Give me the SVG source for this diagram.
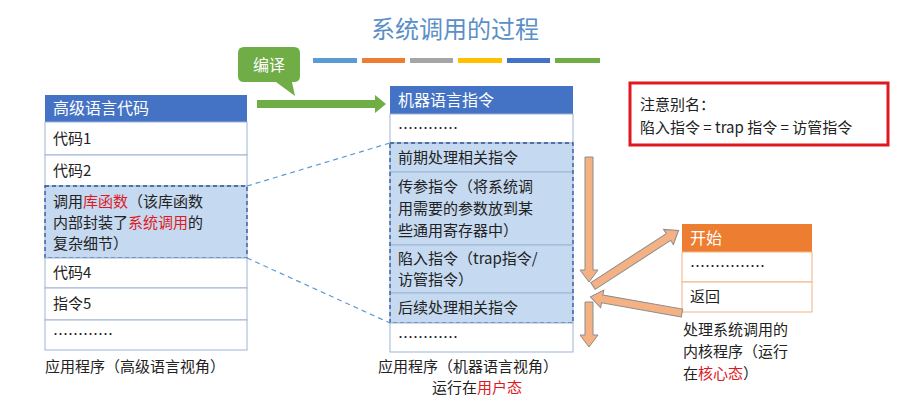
<svg xmlns="http://www.w3.org/2000/svg" width="921" height="400" viewBox="0 0 921 400">
<style>
text{font-family:"Noto Sans CJK SC","Liberation Sans",sans-serif;font-size:15px;fill:#222}
.h{fill:#fff;font-size:16px}
.r{fill:#e0191f}
.cell{fill:#fff;stroke:#9db3d6;stroke-width:1}
.sel{fill:#c5d9f0;stroke:#9db3d6;stroke-width:1}
.dash{fill:none;stroke:#2f5597;stroke-width:1.3;stroke-dasharray:4,3}
.oa{fill:#f4b183;stroke:#8c8c8c;stroke-width:1}
</style>
<rect width="921" height="400" fill="#fff"/>
<text x="455" y="38" text-anchor="middle" style="font-size:24px;fill:#5b8fc7">系统调用的过程</text>
<g>
<rect x="313" y="58" width="44" height="5" fill="#5b9bd5"/>
<rect x="362" y="58" width="43" height="5" fill="#ed7d31"/>
<rect x="410" y="58" width="43" height="5" fill="#a5a5a5"/>
<rect x="458" y="58" width="44" height="5" fill="#ffc000"/>
<rect x="507" y="58" width="43" height="5" fill="#4472c4"/>
<rect x="555" y="58" width="45" height="5" fill="#70ad47"/>
</g>
<g id="compile">
<path d="M244,47 H294 Q300,47 300,53 V76 Q300,82 294,82 H292 L295,96 L276,82 H244 Q238,82 238,76 V53 Q238,47 244,47 Z" fill="#70ad47"/>
<text x="269" y="71" text-anchor="middle" style="fill:#fff;font-size:16px">编译</text>
</g>
<g id="left">
<rect x="45" y="95" width="202" height="27" fill="#4472c4"/>
<text class="h" x="53" y="114">高级语言代码</text>
<rect class="cell" x="45" y="122" width="202" height="33"/><text x="53" y="144">代码1</text>
<rect class="cell" x="45" y="155" width="202" height="31"/><text x="53" y="176">代码2</text>
<rect class="sel" x="45" y="186" width="202" height="72"/>
<rect class="dash" x="45" y="186" width="202" height="72"/>
<text x="53" y="207">调用<tspan class="r">库函数</tspan>（该库函数</text>
<text x="53" y="228">内部封装了<tspan class="r">系统调用</tspan>的</text>
<text x="53" y="249">复杂细节）</text>
<rect class="cell" x="45" y="258" width="202" height="30"/><text x="53" y="278">代码4</text>
<rect class="cell" x="45" y="288" width="202" height="32"/><text x="53" y="309">指令5</text>
<rect class="cell" x="45" y="320" width="202" height="30"/><text x="53" y="340">…………</text>
<text x="45" y="372">应用程序（高级语言视角）</text>
</g>
<g id="mid">
<rect x="390" y="86" width="183" height="28" fill="#4472c4"/>
<text class="h" x="398" y="106">机器语言指令</text>
<rect class="cell" x="390" y="114" width="183" height="29"/><text x="398" y="134">…………</text>
<rect class="sel" x="390" y="143" width="183" height="29"/><text x="398" y="163">前期处理相关指令</text>
<rect class="sel" x="390" y="172" width="183" height="73"/>
<text x="398" y="192">传参指令（将系统调</text>
<text x="398" y="214">用需要的参数放到某</text>
<text x="398" y="236">些通用寄存器中）</text>
<rect class="sel" x="390" y="245" width="183" height="48"/>
<text x="398" y="264">陷入指令（trap指令/</text>
<text x="398" y="285">访管指令）</text>
<rect class="sel" x="390" y="293" width="183" height="30"/><text x="398" y="313">后续处理相关指令</text>
<rect class="dash" x="390" y="143" width="183" height="180"/>
<rect class="cell" x="390" y="323" width="183" height="29"/><text x="398" y="343">…………</text>
<text x="378" y="372">应用程序（机器语言视角）</text>
<text x="432" y="393">运行在<tspan class="r">用户态</tspan></text>
</g>
<g id="note">
<rect x="630" y="83" width="258" height="62" fill="#fff" stroke="#e0191f" stroke-width="3"/>
<text x="640" y="110">注意别名：</text>
<text x="640" y="133">陷入指令 = trap 指令 = 访管指令</text>
</g>
<g id="kernel">
<rect x="682" y="224" width="130" height="28" fill="#ed7d31"/>
<text class="h" x="690" y="244">开始</text>
<rect x="682" y="252" width="130" height="30" fill="#fff" stroke="#f4b183"/><text x="690" y="272">……………</text>
<rect x="682" y="282" width="130" height="30" fill="#fff" stroke="#f4b183"/><text x="690" y="302">返回</text>
<text x="683" y="335">处理系统调用的</text>
<text x="683" y="357">内核程序（运行</text>
<text x="683" y="379">在<tspan class="r">核心态</tspan>）</text>
</g>
<g id="connectors">
<line x1="247" y1="186" x2="390" y2="143" stroke="#5b9bd5" stroke-width="1.2" stroke-dasharray="5,4"/>
<line x1="247" y1="258" x2="390" y2="323" stroke="#5b9bd5" stroke-width="1.2" stroke-dasharray="5,4"/>
<path d="M257,100 H375 V95 L386,104 L375,113 V108 H257 Z" fill="#70ad47"/>
<path class="oa" d="M585,157 H593 V270 H598 L589,282 L580,270 H585 Z"/>
<path class="oa" d="M585,302 H593 V335 H598 L589,347 L580,335 H585 Z"/>
<path class="oa" transform="translate(593,286) rotate(-33)" d="M0,-4 H90 V-9 L102,0 L90,9 V4 H0 Z"/>
<path class="oa" transform="translate(682,313) rotate(190)" d="M0,-4 H81 V-9 L93,0 L81,9 V4 H0 Z"/>
</g>
</svg>
